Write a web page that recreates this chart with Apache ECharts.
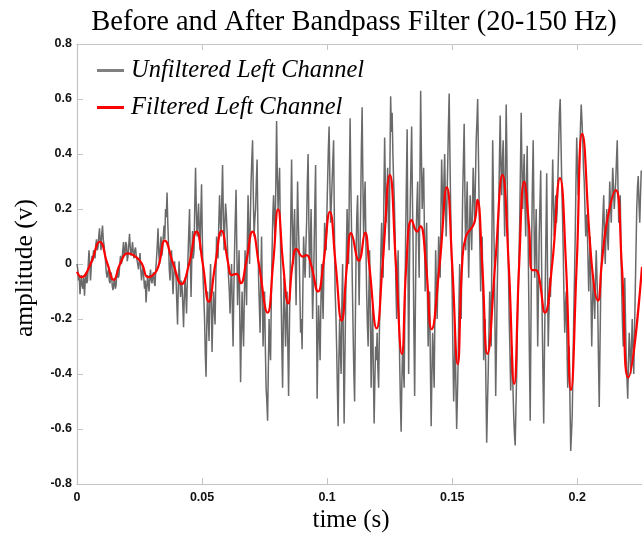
<!DOCTYPE html>
<html>
<head>
<meta charset="utf-8">
<script src="https://cdn.jsdelivr.net/npm/echarts@6/dist/echarts.min.js"></script>
<style>
  html, body { margin: 0; padding: 0; background: #fff; }
  #chart { width: 642px; height: 533px; }
</style>
</head>
<body>
<div id="chart"></div>
<script>
// Raw left channel, one value every GRAY_DT seconds starting at t = 0
const GRAY_DT = 0.0003;
const unfilteredLeft = [
  0.00, -0.02, -0.06, -0.04, -0.11, -0.07, -0.04, -0.08, -0.09, -0.05, -0.115, -0.06, -0.03, -0.07, -0.06, 0.00, 0.05, 0.00, -0.06, -0.01,
  0.03, 0.01, 0.05, 0.04, 0.02, 0.07, 0.09, 0.05, 0.06, 0.10, 0.13, 0.08, 0.05, 0.11, 0.14, 0.09, 0.07, 0.04, 0.01, -0.03,
  -0.05, -0.03, -0.02, -0.06, -0.07, -0.03, -0.04, -0.08, -0.095, -0.07, -0.05, -0.09, -0.08, -0.04, -0.02, -0.05, -0.04, 0.00, 0.03, 0.00,
  0.01, 0.05, 0.08, 0.03, 0.04, 0.08, 0.07, 0.01, 0.03, 0.07, 0.11, 0.06, 0.03, 0.05, 0.08, 0.04, 0.02, 0.05, 0.06, 0.03,
  0.015, 0.02, -0.02, 0.01, 0.04, -0.02, -0.06, -0.03, -0.01, -0.05, -0.09, -0.06, -0.14, -0.09, -0.04, -0.07, -0.10, -0.05, -0.02, -0.06,
  -0.07, -0.04, -0.03, -0.07, -0.08, -0.02, 0.02, 0.07, 0.13, 0.04, 0.00, 0.06, 0.10, 0.03, 0.05, 0.10, 0.14, 0.09, 0.20, 0.17,
  0.26, 0.15, 0.07, -0.02, -0.06, 0.02, 0.05, -0.04, -0.11, -0.04, 0.01, -0.03, -0.05, -0.14, -0.22, -0.08, 0.01, -0.05, -0.12, -0.06,
  -0.08, -0.15, -0.23, -0.12, -0.05, -0.11, -0.18, -0.06, 0.03, 0.12, 0.20, 0.02, -0.12, 0.02, 0.12, 0.02, 0.05, 0.22, 0.35, 0.20,
  0.10, 0.15, 0.22, 0.12, 0.05, 0.18, 0.29, 0.10, -0.05, -0.12, -0.20, -0.33, -0.41, -0.22, -0.10, -0.20, -0.28, -0.10, 0.00, -0.15,
  -0.32, -0.18, -0.10, -0.17, -0.22, -0.05, 0.10, 0.04, 0.02, 0.15, 0.25, 0.16, 0.10, 0.24, 0.36, 0.18, 0.05, 0.14, 0.22, 0.18,
  0.12, 0.02, -0.05, -0.10, -0.18, -0.06, 0.00, -0.16, -0.30, -0.10, 0.05, 0.17, 0.27, 0.05, -0.15, -0.04, 0.05, -0.20, -0.43, -0.25,
  -0.10, -0.22, -0.30, -0.12, 0.05, -0.06, -0.15, 0.08, 0.25, 0.10, 0.00, 0.16, 0.30, 0.38, 0.45, 0.25, 0.10, 0.16, 0.20, 0.30,
  0.38, 0.15, -0.05, -0.15, -0.25, -0.05, 0.10, -0.12, -0.30, -0.18, -0.10, -0.30, -0.45, -0.50, -0.57, -0.38, -0.20, -0.30, -0.35, -0.12,
  0.05, 0.18, 0.25, 0.15, 0.10, 0.30, 0.52, 0.32, 0.20, 0.28, 0.35, 0.12, -0.10, -0.30, -0.45, -0.20, -0.05, -0.18, -0.30, -0.18,
  -0.10, -0.30, -0.48, -0.25, -0.05, 0.18, 0.38, 0.15, 0.00, 0.12, 0.20, 0.00, -0.15, 0.10, 0.30, 0.15, 0.05, -0.10, -0.25, -0.20,
  -0.31, -0.10, 0.10, 0.02, -0.05, 0.06, 0.15, 0.30, 0.40, 0.15, -0.05, 0.08, 0.20, 0.00, -0.20, -0.08, 0.05, 0.22, 0.36, -0.05,
  -0.49, -0.30, -0.15, -0.25, -0.35, -0.15, 0.00, -0.10, -0.20, -0.02, 0.15, 0.10, 0.05, 0.18, 0.30, 0.42, 0.50, 0.30, 0.15, 0.22,
  0.30, 0.38, 0.45, 0.15, -0.10, -0.18, -0.30, -0.45, -0.59, -0.35, -0.20, -0.32, -0.40, -0.15, 0.00, -0.30, -0.58, -0.35, -0.15, 0.05,
  0.20, 0.08, 0.00, 0.30, 0.53, 0.28, 0.10, -0.08, -0.25, -0.40, -0.50, -0.20, 0.05, 0.18, 0.25, 0.05, -0.15, 0.02, 0.20, 0.42,
  0.57, 0.30, 0.10, 0.22, 0.30, 0.08, -0.10, -0.22, -0.30, -0.10, 0.05, -0.20, -0.45, -0.28, -0.15, -0.40, -0.58, -0.42, -0.30, -0.35,
  -0.25, -0.38, -0.45, -0.25, -0.10, 0.05, 0.15, 0.02, -0.05, 0.25, 0.46, 0.28, 0.15, 0.25, 0.35, 0.15, 0.05, 0.35, 0.61, 0.48,
  0.55, 0.40, 0.30, 0.22, 0.10, -0.08, -0.20, -0.05, 0.05, -0.15, -0.35, -0.50, -0.61, -0.42, -0.30, -0.38, -0.45, -0.15, 0.10, 0.30,
  0.49, 0.05, -0.40, -0.05, 0.20, 0.35, 0.50, 0.25, 0.05, -0.25, -0.48, -0.15, 0.10, 0.22, 0.30, 0.10, -0.05, 0.30, 0.63, 0.40,
  0.20, 0.28, 0.35, 0.12, -0.10, 0.05, 0.15, -0.10, -0.30, -0.18, -0.10, -0.38, -0.59, -0.40, -0.25, -0.35, -0.45, -0.18, 0.05, -0.08,
  -0.20, -0.05, 0.10, 0.02, -0.05, 0.18, 0.38, 0.25, 0.15, 0.30, 0.40, 0.22, 0.10, 0.22, 0.35, 0.50, 0.62, 0.40, 0.20, 0.05,
  -0.10, -0.32, -0.50, -0.38, -0.25, -0.45, -0.60, -0.48, -0.35, -0.15, 0.00, -0.12, -0.20, 0.05, 0.25, 0.38, 0.51, 0.25, 0.05, 0.18,
  0.30, 0.12, -0.05, 0.10, 0.25, 0.14, 0.05, 0.20, 0.35, 0.25, 0.15, 0.30, 0.45, 0.52, 0.60, 0.40, 0.20, 0.05, -0.10, 0.02,
  0.10, -0.12, -0.35, -0.28, -0.20, -0.45, -0.65, -0.52, -0.40, -0.25, -0.10, -0.20, -0.30, 0.10, 0.45, 0.25, 0.05, -0.20, -0.48, -0.30,
  -0.10, 0.05, 0.20, 0.38, 0.54, 0.35, 0.25, 0.38, 0.45, 0.25, 0.10, 0.35, 0.58, 0.38, 0.15, -0.02, -0.20, -0.32, -0.46, -0.35,
  -0.30, -0.45, -0.55, -0.62, -0.66, -0.52, -0.40, -0.22, -0.10, 0.02, 0.15, 0.35, 0.55, 0.35, 0.20, 0.32, 0.40, 0.22, 0.10, 0.28,
  0.43, 0.15, -0.10, -0.35, -0.57, -0.22, 0.10, 0.30, 0.45, 0.18, -0.05, 0.08, 0.20, -0.05, -0.30, -0.10, 0.10, 0.22, 0.34, 0.05,
  -0.20, -0.40, -0.58, -0.32, -0.10, 0.12, 0.33, 0.00, -0.30, -0.18, -0.05, -0.12, 0.05, 0.22, 0.38, 0.22, 0.10, 0.18, 0.25, 0.15,
  0.20, 0.32, 0.45, 0.55, 0.60, 0.45, 0.30, 0.18, 0.05, -0.12, -0.25, -0.15, -0.10, -0.30, -0.45, -0.35, -0.30, -0.50, -0.68, -0.62,
  -0.55, -0.38, -0.20, -0.05, 0.10, 0.30, 0.46, 0.35, 0.25, 0.32, 0.40, 0.50, 0.58, 0.52, 0.45, 0.35, 0.30, 0.20, 0.10, 0.18,
  0.15, 0.02, -0.10, 0.00, 0.10, -0.12, -0.30, -0.15, -0.05, -0.12, -0.20, -0.05, 0.05, -0.05, -0.15, -0.35, -0.52, -0.30, -0.10, 0.02,
  0.10, 0.18, 0.25, 0.10, 0.00, 0.12, 0.20, 0.10, 0.05, 0.18, 0.30, 0.22, 0.15, 0.25, 0.35, 0.28, 0.20, 0.25, 0.30, 0.38,
  0.45, 0.28, 0.15, 0.20, 0.25, 0.05, -0.10, -0.22, -0.30, -0.15, -0.05, -0.20, -0.35, -0.42, -0.49, -0.35, -0.25, -0.32, -0.40, -0.30,
  -0.20, -0.30, -0.40, -0.25, -0.10, 0.05, 0.20, 0.28, 0.32, 0.22, 0.15, 0.25, 0.34
];

// Band-passed left channel: times (s) and amplitudes (v)
const filteredTime = [
  0, 0.0018, 0.0054, 0.0091, 0.0122, 0.0147, 0.0172, 0.0204, 0.0238, 0.0260,
  0.0284, 0.0311, 0.0328, 0.0351, 0.0385, 0.0418, 0.0448, 0.0478, 0.0503, 0.0527,
  0.0553, 0.0578, 0.0605, 0.0618, 0.0638, 0.0655, 0.0675, 0.0702, 0.0727, 0.0762,
  0.0784, 0.0804, 0.0824, 0.0844, 0.0862, 0.0878, 0.0902, 0.0918, 0.0935, 0.0964,
  0.0985, 0.1011, 0.1034, 0.1058, 0.1080, 0.1096, 0.1127, 0.1152, 0.1168, 0.1198,
  0.1222, 0.1251, 0.1275, 0.1299, 0.1317, 0.1338, 0.1360, 0.1373, 0.1395, 0.1418,
  0.1450, 0.1479, 0.1500, 0.1522, 0.1540, 0.1555, 0.1588, 0.1601, 0.1620, 0.1641,
  0.1672, 0.1701, 0.1726, 0.1748, 0.1768, 0.1788, 0.1807, 0.1820, 0.1834, 0.1847,
  0.1871, 0.1900, 0.1931, 0.1955, 0.1975, 0.1998, 0.2020, 0.2058, 0.2083, 0.2098,
  0.2120, 0.2154, 0.2178, 0.2204, 0.2259
];
const filteredLeft = [
  -0.028, -0.048, 0, 0.081, 0, -0.058, 0, 0.039, 0.024, 0,
  -0.048, -0.034, 0, 0.085, 0, -0.073, 0, 0.118, 0, -0.137,
  0, 0.121, 0, -0.040, -0.036, -0.070, 0, 0.118, 0, -0.177,
  0, 0.199, 0, -0.143, 0, 0.055, 0.027, 0.032, 0, -0.100,
  0, 0.190, 0, -0.206, 0, 0.112, 0.012, 0.114, 0, -0.234,
  0, 0.324, 0, -0.327, 0, 0.160, 0.118, 0.138, 0, -0.237,
  0, 0.279, 0, -0.364, 0, 0.100, 0.148, 0.233, 0, -0.327,
  0, 0.324, 0, -0.436, 0, 0.300, 0.140, -0.022, -0.022, -0.046,
  -0.177, 0, 0.312, 0, -0.458, 0, 0.473, 0, -0.133, 0,
  0.160, 0.269, 0, -0.413, -0.010
];

// Axis settings
const timeTicks = [0, 0.05, 0.1, 0.15, 0.2];
const ampTicks = [-0.8, -0.6, -0.4, -0.2, 0, 0.2, 0.4, 0.6, 0.8];
const seriesNames = ['Unfiltered Left Channel', 'Filtered Left Channel'];

const grayData = unfilteredLeft.map((v, i) => [i * GRAY_DT, v]);
const redData = filteredTime.map((t, i) => [t, filteredLeft[i]]);

const AXIS_COLOR = '#c4c4c4';
const tickLabel = {
  fontFamily: 'Liberation Sans',
  fontWeight: 'bold',
  fontSize: 12.5,
  color: '#111'
};
const xMin = timeTicks[0], xMax = 0.2259;
const xStep = timeTicks[1] - timeTicks[0];
const yMin = ampTicks[0], yMax = ampTicks[ampTicks.length - 1];
const yStep = ampTicks[1] - ampTicks[0];

const frameAxis = {
  axisLine: { onZero: false, lineStyle: { color: AXIS_COLOR, width: 1.2 } },
  axisTick: { inside: true, length: 6, lineStyle: { color: AXIS_COLOR } },
  splitLine: { show: false }
};

const chart = echarts.init(document.getElementById('chart'), null, { renderer: 'canvas' });
chart.setOption({
  animation: false,
  backgroundColor: '#fff',
  title: {
    text: 'Before and After Bandpass Filter (20-150 Hz)',
    left: 349,
    top: 3,
    textAlign: 'center',
    textStyle: {
      fontFamily: 'Liberation Serif',
      fontWeight: 'normal',
      fontSize: 28.5,
      color: '#000'
    }
  },
  legend: {
    orient: 'vertical',
    left: 92,
    top: 53,
    itemWidth: 27,
    itemHeight: 3,
    itemGap: 12,
    icon: 'rect',
    data: seriesNames,
    textStyle: {
      fontFamily: 'Liberation Serif',
      fontStyle: 'italic',
      fontSize: 24.5,
      lineHeight: 24,
      color: '#000',
      padding: [0, 0, 0, 2]
    }
  },
  grid: { left: 77, right: 0, top: 44, bottom: 49, containLabel: false },
  xAxis: [Object.assign({
    type: 'value',
    min: xMin, max: xMax, interval: xStep,
    axisLabel: Object.assign({ margin: 7, showMaxLabel: false,
      formatter: v => String(+v.toFixed(2)) }, tickLabel)
  }, frameAxis), Object.assign({
    type: 'value', position: 'top',
    min: xMin, max: xMax, interval: xStep,
    axisLabel: { show: false }
  }, frameAxis)],
  yAxis: Object.assign({
    type: 'value',
    min: yMin, max: yMax, interval: yStep,
    axisLabel: Object.assign({ margin: 5,
      formatter: v => String(+v.toFixed(1)) }, tickLabel)
  }, frameAxis, {
    axisLine: { show: true, onZero: false, lineStyle: { color: AXIS_COLOR, width: 1.2 } },
    axisTick: { show: true, inside: true, length: 6, lineStyle: { color: AXIS_COLOR } }
  }),
  graphic: [
    {
      type: 'text', x: 351, y: 520,
      style: { text: 'time (s)', align: 'center', verticalAlign: 'middle',
        font: '25px "Liberation Serif"', fill: '#000' }
    },
    {
      type: 'text', x: 25, y: 268, rotation: Math.PI / 2,
      style: { text: 'amplitude (v)', align: 'center', verticalAlign: 'middle',
        font: '25.5px "Liberation Serif"', fill: '#000' }
    }
  ],
  series: [
    {
      name: seriesNames[0],
      type: 'line',
      data: grayData,
      showSymbol: false,
      symbol: 'none',
      color: '#808080',
      lineStyle: { color: '#6a6a6a', width: 1.5 },
      clip: true,
      z: 2
    },
    {
      name: seriesNames[1],
      type: 'line',
      data: redData,
      showSymbol: false,
      symbol: 'none',
      smooth: 0.5,
      color: '#ff0000',
      lineStyle: { color: '#ff0000', width: 2.2 },
      clip: true,
      z: 3
    }
  ]
});
</script>
</body>
</html>
